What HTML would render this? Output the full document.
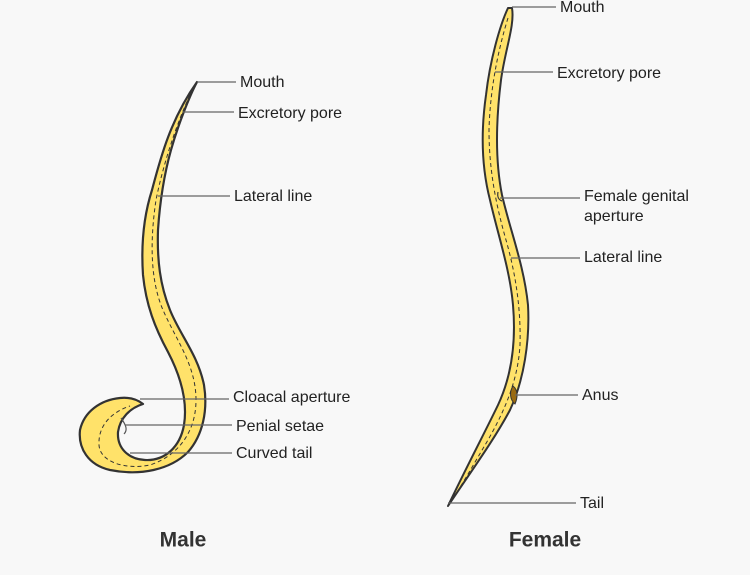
<!DOCTYPE html>
<html><head><style>
body{margin:0;background:#f8f8f8;}
svg{display:block}
text{font-family:"Liberation Sans",sans-serif;font-size:16px;fill:#222;dominant-baseline:middle}
</style></head><body>
<svg width="750" height="575" viewBox="0 0 750 575">
<rect width="750" height="575" fill="#f8f8f8"/>
<!-- male -->
<path d="M197,82 C190,95 178,125 171,150 C164,175 160,200 158,230 C157,260 160,285 170,310 C180,335 198,355 204,385 C208,410 203,435 188,452 C170,470 140,476 110,470 C88,465 78,448 80,430 C84,412 100,400 120,398 C130,397 138,400 143,404 C130,408 120,418 118,432 C117,448 128,459 145,460 C165,461 180,447 184,425 C188,400 180,375 168,352 C155,328 146,305 143,275 C141,245 144,215 152,190 C160,160 170,120 197,82 Z" fill="#ffe26a" stroke="#333" stroke-width="2.2" stroke-linejoin="round"/>
<path d="M190,95 C176,125 163,165 156,200 C150,240 150,280 163,310 C176,340 196,365 196,400 C196,430 180,455 150,465 C125,470 100,462 99,445 C98,425 112,412 130,406" fill="none" stroke="#333" stroke-width="1" stroke-dasharray="4,3"/>
<path d="M121,418 C126,425 128,430 124,434" fill="none" stroke="#555" stroke-width="1.2"/>
<!-- female -->
<path d="M508,8 C500,25 490,60 486,95 C481,130 481,165 490,200 C498,235 510,270 513,305 C516,340 512,375 498,405 C486,430 465,470 448,506 C472,470 494,440 510,410 C524,380 530,340 528,305 C524,265 510,230 502,195 C495,160 496,120 501,80 C505,50 515,25 512,8 Z" fill="#ffe26a" stroke="#333" stroke-width="2" stroke-linejoin="round"/>
<path d="M508,18 C498,50 490,90 489,130 C489,170 496,205 506,240 C516,275 521,310 520,345 C518,380 505,410 488,440 C475,462 462,485 452,500" fill="none" stroke="#333" stroke-width="1" stroke-dasharray="4,3"/>
<path d="M513,386 C518,390 518,397 515,404 C510,400 509,392 513,386 Z" fill="#9a6a10" stroke="#333" stroke-width="1"/>
<path d="M498,192 C497,197 499,200 502,201" fill="none" stroke="#333" stroke-width="1.2"/>
<!-- leader lines -->
<g stroke="#666" stroke-width="1.2">
<line x1="197" y1="82" x2="236" y2="82"/>
<line x1="183" y1="112" x2="234" y2="112"/>
<line x1="158" y1="196" x2="230" y2="196"/>
<line x1="140" y1="399" x2="229" y2="399"/>
<line x1="125" y1="425" x2="232" y2="425"/>
<line x1="130" y1="453" x2="232" y2="453"/>
<line x1="512" y1="7" x2="556" y2="7"/>
<line x1="495" y1="72" x2="553" y2="72"/>
<line x1="500" y1="198" x2="580" y2="198"/>
<line x1="511" y1="258" x2="580" y2="258"/>
<line x1="515" y1="395" x2="578" y2="395"/>
<line x1="448" y1="503" x2="576" y2="503"/>
</g>
<text x="240" y="83">Mouth</text>
<text x="238" y="114">Excretory pore</text>
<text x="234" y="197">Lateral line</text>
<text x="233" y="398">Cloacal aperture</text>
<text x="236" y="427">Penial setae</text>
<text x="236" y="454">Curved tail</text>
<text x="560" y="8">Mouth</text>
<text x="557" y="74">Excretory pore</text>
<text x="584" y="197">Female genital</text>
<text x="584" y="217">aperture</text>
<text x="584" y="258">Lateral line</text>
<text x="582" y="396">Anus</text>
<text x="580" y="504">Tail</text>
<text x="183" y="541" text-anchor="middle" style="font-size:21px;font-weight:bold;fill:#333">Male</text>
<text x="545" y="541" text-anchor="middle" style="font-size:21px;font-weight:bold;fill:#333">Female</text>
</svg>
</body></html>
